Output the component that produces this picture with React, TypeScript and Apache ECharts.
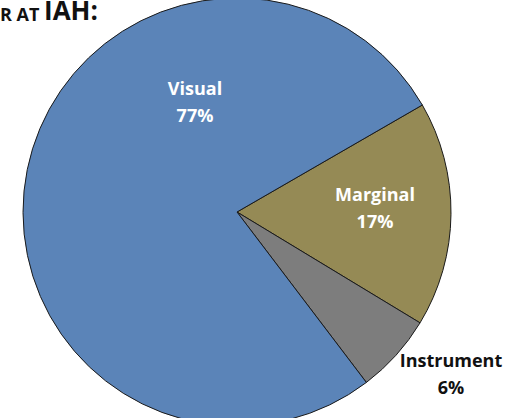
import React, { useEffect, useRef } from "react";
import * as echarts from "echarts";

const categories = ["Marginal", "Instrument", "Visual"];
const values = [17, 6, 77];
const colors = ["#958A55", "#7D7D7D", "#5B84B8"];
const labelColors = ["#ffffff", "#111111", "#ffffff"];
const labelSpots: Record<string, [number, number]> = {
  Marginal: [375, 207],
  Instrument: [451, 373],
  Visual: [195, 101],
};

export default function App() {
  const ref = useRef<HTMLDivElement>(null);
  useEffect(() => {
    document.body.style.margin = "0";
    const chart = echarts.init(ref.current!, undefined, { renderer: "svg" });
    chart.setOption({
      animation: false,
      backgroundColor: "#ffffff",
      graphic: [
        {
          type: "text",
          left: 0,
          top: -3,
          style: {
            text: "{s|R AT }{b|IAH:}",
            rich: {
              s: { fontSize: 18, fontWeight: "bold", fontFamily: "Open Sans", fill: "#111", lineHeight: 30, verticalAlign: "bottom" },
              b: { fontSize: 26, fontWeight: "bold", fontFamily: "Open Sans", fill: "#111", lineHeight: 30, verticalAlign: "bottom" },
            },
          },
        },
      ],
      series: [
        {
          type: "pie",
          center: [237, 212],
          radius: 214,
          startAngle: 30,
          clockwise: true,
          label: {
            show: true,
            position: "inside",
            formatter: (p: any) => `${p.name}\n${p.value}%`,
            fontFamily: "Open Sans",
            fontWeight: "bold",
            fontSize: 18,
            lineHeight: 27,
            align: "center",
          },
          labelLine: { show: false },
          labelLayout: (p: any) => {
            const name = categories[p.dataIndex];
            const s = labelSpots[name];
            return { x: s[0], y: s[1], align: "center", verticalAlign: "middle" };
          },
          itemStyle: { borderColor: "#1a1a1a", borderWidth: 1 },
          emphasis: { disabled: true },
          data: categories.map((c, i) => ({
            name: c,
            value: values[i],
            itemStyle: { color: colors[i] },
            label: { color: labelColors[i] },
          })),
        },
      ],
    });
    return () => chart.dispose();
  }, []);
  return <div ref={ref} style={{ width: 526, height: 418 }} />;
}
